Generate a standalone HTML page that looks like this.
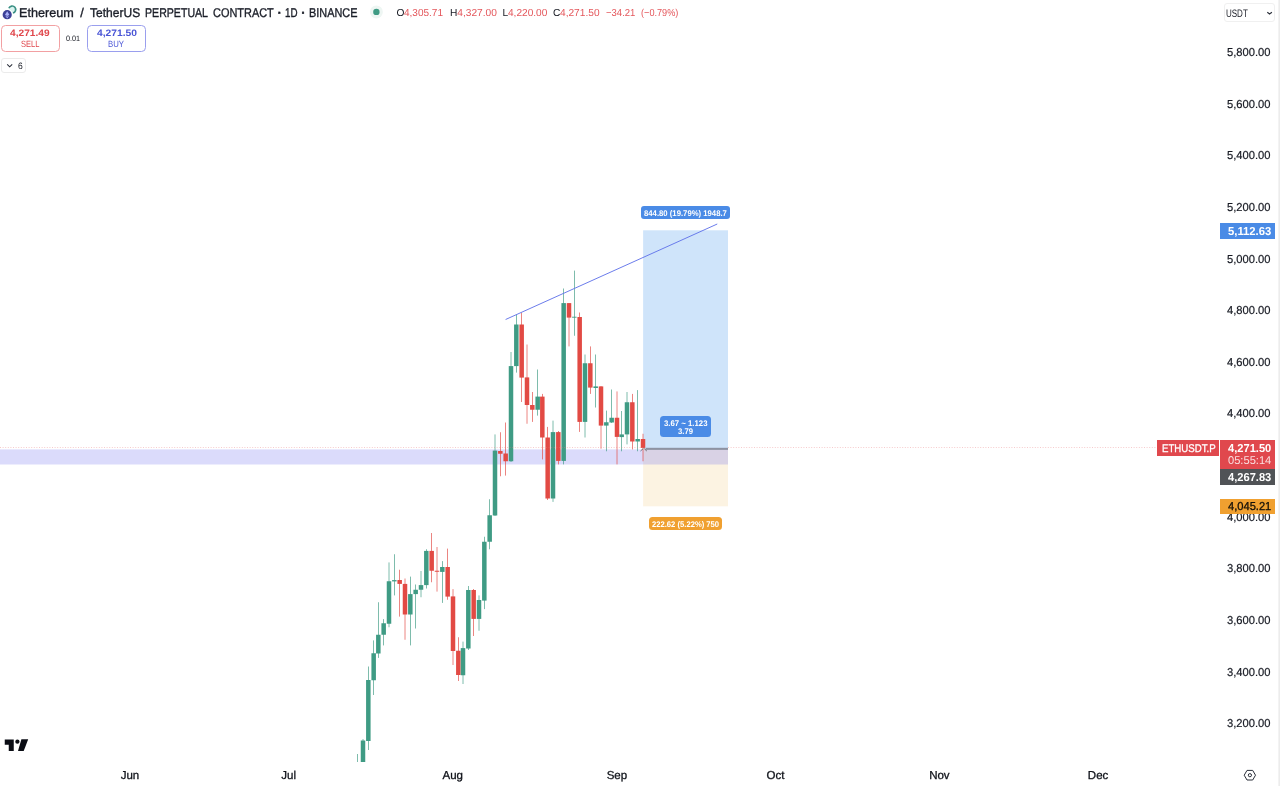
<!DOCTYPE html>
<html lang="en">
<head>
<meta charset="utf-8">
<title>ETHUSDT.P chart</title>
<style>
html,body{margin:0;padding:0;background:#fff;}
body{width:1280px;height:786px;position:relative;overflow:hidden;font-family:"Liberation Sans",sans-serif;}
#chart{position:absolute;left:0;top:0;width:1280px;height:786px;}
.t{position:absolute;white-space:nowrap;transform-origin:0 50%;display:block;line-height:20px;text-rendering:geometricPrecision;}
.box{position:absolute;box-sizing:border-box;}
</style>
</head>
<body>
<svg id="chart" width="1280" height="786" viewBox="0 0 1280 786">
<!-- position tool -->
<rect x="643.1" y="230.3" width="84.9" height="218.5" fill="rgba(63,147,235,0.25)"/>
<rect x="643.1" y="448.8" width="84.9" height="57.5" fill="rgba(232,163,32,0.13)"/>
<!-- support band -->
<rect x="0" y="449.4" width="728" height="15.1" fill="rgba(110,110,240,0.25)"/>
<!-- candles -->
<g>
<rect x="357.33" y="754.00" width="0.67" height="8.00" fill="#3f9b84"/>
<rect x="362.67" y="739.00" width="0.67" height="23.00" fill="#3f9b84"/>
<rect x="360.75" y="740.50" width="4.5" height="21.50" fill="#3f9b84"/>
<rect x="368.00" y="666.50" width="0.67" height="83.50" fill="#3f9b84"/>
<rect x="366.08" y="680.00" width="4.5" height="61.00" fill="#3f9b84"/>
<rect x="373.33" y="640.40" width="0.67" height="54.60" fill="#3f9b84"/>
<rect x="371.42" y="653.25" width="4.5" height="27.00" fill="#3f9b84"/>
<rect x="378.00" y="602.25" width="0.67" height="55.65" fill="#3f9b84"/>
<rect x="376.08" y="634.75" width="4.5" height="18.75" fill="#3f9b84"/>
<rect x="383.33" y="619.10" width="0.67" height="26.30" fill="#3f9b84"/>
<rect x="381.42" y="623.25" width="4.5" height="11.50" fill="#3f9b84"/>
<rect x="388.67" y="562.40" width="0.67" height="64.85" fill="#3f9b84"/>
<rect x="386.75" y="581.25" width="4.5" height="42.50" fill="#3f9b84"/>
<rect x="394.00" y="554.25" width="0.67" height="41.15" fill="#3f9b84"/>
<rect x="392.08" y="580.10" width="4.5" height="1.30" fill="#3f9b84"/>
<rect x="399.33" y="569.75" width="0.67" height="46.85" fill="#e24a44"/>
<rect x="397.42" y="580.00" width="4.5" height="3.90" fill="#e24a44"/>
<rect x="404.67" y="578.50" width="0.67" height="61.25" fill="#e24a44"/>
<rect x="402.75" y="583.90" width="4.5" height="30.60" fill="#e24a44"/>
<rect x="410.00" y="576.60" width="0.67" height="68.80" fill="#3f9b84"/>
<rect x="408.08" y="594.10" width="4.5" height="20.40" fill="#3f9b84"/>
<rect x="415.33" y="584.50" width="0.67" height="44.00" fill="#3f9b84"/>
<rect x="413.42" y="589.75" width="4.5" height="4.35" fill="#3f9b84"/>
<rect x="420.67" y="571.00" width="0.67" height="26.25" fill="#3f9b84"/>
<rect x="418.75" y="585.10" width="4.5" height="4.65" fill="#3f9b84"/>
<rect x="426.00" y="549.25" width="0.67" height="39.25" fill="#3f9b84"/>
<rect x="424.08" y="550.90" width="4.5" height="34.20" fill="#3f9b84"/>
<rect x="431.33" y="533.00" width="0.67" height="49.25" fill="#e24a44"/>
<rect x="429.42" y="550.90" width="4.5" height="19.85" fill="#e24a44"/>
<rect x="436.67" y="547.00" width="0.67" height="44.60" fill="#e24a44"/>
<rect x="434.75" y="570.75" width="4.5" height="1.00" fill="#e24a44"/>
<rect x="442.00" y="561.10" width="0.67" height="41.80" fill="#3f9b84"/>
<rect x="440.08" y="567.00" width="4.5" height="4.90" fill="#3f9b84"/>
<rect x="447.33" y="548.60" width="0.67" height="51.15" fill="#e24a44"/>
<rect x="445.42" y="567.00" width="4.5" height="29.60" fill="#e24a44"/>
<rect x="452.67" y="589.10" width="0.67" height="75.90" fill="#e24a44"/>
<rect x="450.75" y="596.40" width="4.5" height="54.60" fill="#e24a44"/>
<rect x="458.00" y="637.25" width="0.67" height="43.75" fill="#e24a44"/>
<rect x="456.08" y="650.75" width="4.5" height="24.25" fill="#e24a44"/>
<rect x="462.67" y="641.60" width="0.67" height="42.40" fill="#3f9b84"/>
<rect x="460.75" y="648.10" width="4.5" height="27.15" fill="#3f9b84"/>
<rect x="468.00" y="586.00" width="0.67" height="64.00" fill="#3f9b84"/>
<rect x="466.08" y="590.00" width="4.5" height="58.50" fill="#3f9b84"/>
<rect x="473.33" y="589.00" width="0.67" height="47.00" fill="#e24a44"/>
<rect x="471.42" y="590.00" width="4.5" height="28.90" fill="#e24a44"/>
<rect x="478.67" y="595.40" width="0.67" height="35.35" fill="#3f9b84"/>
<rect x="476.75" y="600.00" width="4.5" height="18.90" fill="#3f9b84"/>
<rect x="484.00" y="536.75" width="0.67" height="72.35" fill="#3f9b84"/>
<rect x="482.08" y="541.75" width="4.5" height="58.85" fill="#3f9b84"/>
<rect x="489.33" y="499.25" width="0.67" height="50.00" fill="#3f9b84"/>
<rect x="487.42" y="515.25" width="4.5" height="26.50" fill="#3f9b84"/>
<rect x="494.67" y="434.40" width="0.67" height="81.60" fill="#3f9b84"/>
<rect x="492.75" y="450.60" width="4.5" height="64.90" fill="#3f9b84"/>
<rect x="500.00" y="432.25" width="0.67" height="44.00" fill="#e24a44"/>
<rect x="498.08" y="451.00" width="4.5" height="2.75" fill="#e24a44"/>
<rect x="505.33" y="422.50" width="0.67" height="53.10" fill="#e24a44"/>
<rect x="503.42" y="453.50" width="4.5" height="7.75" fill="#e24a44"/>
<rect x="510.67" y="352.00" width="0.67" height="110.00" fill="#3f9b84"/>
<rect x="508.75" y="366.10" width="4.5" height="95.15" fill="#3f9b84"/>
<rect x="516.00" y="314.50" width="0.67" height="58.10" fill="#3f9b84"/>
<rect x="514.08" y="324.50" width="4.5" height="41.60" fill="#3f9b84"/>
<rect x="521.33" y="312.60" width="0.67" height="89.40" fill="#e24a44"/>
<rect x="519.42" y="324.50" width="4.5" height="53.10" fill="#e24a44"/>
<rect x="526.67" y="344.50" width="0.67" height="79.25" fill="#e24a44"/>
<rect x="524.75" y="377.40" width="4.5" height="27.60" fill="#e24a44"/>
<rect x="532.00" y="392.00" width="0.67" height="29.90" fill="#e24a44"/>
<rect x="530.08" y="405.00" width="4.5" height="4.75" fill="#e24a44"/>
<rect x="537.33" y="369.50" width="0.67" height="46.10" fill="#3f9b84"/>
<rect x="535.42" y="396.60" width="4.5" height="13.15" fill="#3f9b84"/>
<rect x="542.00" y="393.90" width="0.67" height="65.50" fill="#e24a44"/>
<rect x="540.08" y="396.60" width="4.5" height="40.90" fill="#e24a44"/>
<rect x="547.33" y="426.90" width="0.67" height="73.10" fill="#e24a44"/>
<rect x="545.42" y="437.50" width="4.5" height="61.00" fill="#e24a44"/>
<rect x="552.67" y="420.60" width="0.67" height="81.30" fill="#3f9b84"/>
<rect x="550.75" y="432.10" width="4.5" height="66.40" fill="#3f9b84"/>
<rect x="558.00" y="431.00" width="0.67" height="33.40" fill="#e24a44"/>
<rect x="556.08" y="432.10" width="4.5" height="28.80" fill="#e24a44"/>
<rect x="563.33" y="288.50" width="0.67" height="175.90" fill="#3f9b84"/>
<rect x="561.42" y="303.10" width="4.5" height="157.80" fill="#3f9b84"/>
<rect x="568.67" y="303.00" width="0.67" height="43.40" fill="#e24a44"/>
<rect x="566.75" y="303.10" width="4.5" height="14.50" fill="#e24a44"/>
<rect x="574.00" y="270.60" width="0.67" height="65.15" fill="#3f9b84"/>
<rect x="572.08" y="316.75" width="4.5" height="0.90" fill="#3f9b84"/>
<rect x="579.33" y="312.50" width="0.67" height="119.40" fill="#e24a44"/>
<rect x="577.42" y="317.00" width="4.5" height="104.90" fill="#e24a44"/>
<rect x="584.67" y="354.50" width="0.67" height="83.00" fill="#3f9b84"/>
<rect x="582.75" y="363.25" width="4.5" height="58.65" fill="#3f9b84"/>
<rect x="590.00" y="346.40" width="0.67" height="47.50" fill="#e24a44"/>
<rect x="588.08" y="363.25" width="4.5" height="24.35" fill="#e24a44"/>
<rect x="595.33" y="354.50" width="0.67" height="53.00" fill="#3f9b84"/>
<rect x="593.42" y="386.40" width="4.5" height="1.60" fill="#3f9b84"/>
<rect x="600.67" y="386.00" width="0.67" height="62.75" fill="#e24a44"/>
<rect x="598.75" y="386.40" width="4.5" height="39.20" fill="#e24a44"/>
<rect x="606.00" y="410.60" width="0.67" height="40.65" fill="#3f9b84"/>
<rect x="604.08" y="422.25" width="4.5" height="3.35" fill="#3f9b84"/>
<rect x="611.33" y="389.50" width="0.67" height="33.50" fill="#3f9b84"/>
<rect x="609.42" y="417.75" width="4.5" height="4.75" fill="#3f9b84"/>
<rect x="616.67" y="391.40" width="0.67" height="73.00" fill="#e24a44"/>
<rect x="614.75" y="417.75" width="4.5" height="19.15" fill="#e24a44"/>
<rect x="621.33" y="411.00" width="0.67" height="40.25" fill="#3f9b84"/>
<rect x="619.42" y="434.40" width="4.5" height="2.70" fill="#3f9b84"/>
<rect x="626.67" y="392.00" width="0.67" height="52.40" fill="#3f9b84"/>
<rect x="624.75" y="402.25" width="4.5" height="32.15" fill="#3f9b84"/>
<rect x="632.00" y="393.90" width="0.67" height="55.50" fill="#e24a44"/>
<rect x="630.08" y="402.25" width="4.5" height="39.25" fill="#e24a44"/>
<rect x="637.33" y="390.10" width="0.67" height="61.15" fill="#3f9b84"/>
<rect x="635.42" y="439.00" width="4.5" height="2.50" fill="#3f9b84"/>
<rect x="642.67" y="433.75" width="0.67" height="27.50" fill="#e24a44"/>
<rect x="640.75" y="439.00" width="4.5" height="8.90" fill="#e24a44"/>
</g>
<!-- last price dotted line -->
<line x1="0" y1="447.5" x2="643" y2="447.5" stroke="#e8777b" stroke-width="1" stroke-dasharray="1 1.6" opacity=".38"/>
<line x1="728" y1="447.5" x2="1157" y2="447.5" stroke="#e8777b" stroke-width="1" stroke-dasharray="1 1.6" opacity=".38"/>
<!-- entry line -->
<rect x="645.6" y="447.8" width="82.4" height="2.1" fill="#8d93a3"/>
<path d="M640.5 451 L643.2 448.6 M646.8 451 L644.2 448.6" stroke="#555" stroke-width="0.8" fill="none"/>
<!-- trend line -->
<line x1="505.6" y1="319.5" x2="717.25" y2="224" stroke="#6375ea" stroke-width="0.95"/>
<!-- right border -->
<rect x="1278.4" y="0" width="1.6" height="786" fill="#ececec"/>
<!-- TradingView logo -->
<g fill="#0b0d14">
<path d="M4.75 739.5 H13.75 V751 H8.75 V744.75 H4.75 Z"/>
<circle cx="17.4" cy="741.7" r="2.15"/>
<path d="M21.4 739.2 H28.2 L23.7 751 H18.0 Z"/>
</g>
<!-- settings icon -->
<g fill="none" stroke="#2a2e39" stroke-width="1">
<path d="M1244.2 775.2 L1247 770.4 H1252.7 L1255.5 775.2 L1252.7 780 H1247 Z"/>
<circle cx="1249.9" cy="775.2" r="1.6"/>
</g>
<!-- header icons -->
<circle cx="12.2" cy="9.5" r="2.8" fill="#d9f3ef"/>
<path d="M8.9 8.3 A3.5 3.5 0 1 1 12.8 12.95" fill="none" stroke="#3a9084" stroke-width="1.7"/>
<circle cx="7.2" cy="14.7" r="5.7" fill="#fff"/>
<circle cx="7.2" cy="14.7" r="4.6" fill="#3c4096"/>
<path d="M7.2 11.2 L5 14.8 L7.2 16.1 L9.4 14.8 Z M7.2 16.8 L5.1 15.6 L7.2 18.4 L9.3 15.6 Z" fill="#a9aff6"/>
<circle cx="376.4" cy="11.9" r="6.5" fill="#eef6f3"/>
<circle cx="376.4" cy="11.9" r="3.2" fill="#3f9b84"/>
<!-- chevrons -->
<path d="M7.2 64.4 L9.7 66.8 L12.2 64.4" fill="none" stroke="#2a2e39" stroke-width="1.1"/>
<path d="M1267.3 12.2 L1269.6 14 L1271.9 12.2" fill="none" stroke="#2a2e39" stroke-width="1.1"/>
</svg>

<!-- header buttons -->
<div class="box" style="left:1.2px;top:25px;width:58.4px;height:27px;border:1px solid #f2a0a2;border-radius:4.5px;"></div>
<div class="box" style="left:87.4px;top:25px;width:58.4px;height:27px;border:1px solid #9a9fee;border-radius:4.5px;"></div>
<div class="box" style="left:1.4px;top:57.5px;width:24.2px;height:15.8px;border:1px solid #ebebeb;border-radius:3px;"></div>
<div class="box" style="left:1223.6px;top:2.5px;width:51.2px;height:19.8px;border:1px solid #f0f0f0;border-radius:3px;"></div>

<span class="t" style="left:19.20px;top:3.00px;font-size:12.7px;color:#171a23;transform:scaleX(0.9943);-webkit-text-stroke:0.35px #1e222d;">Ethereum</span>
<span class="t" style="left:80.30px;top:3.00px;font-size:12.7px;color:#171a23;-webkit-text-stroke:0.35px #1e222d;">/</span>
<span class="t" style="left:89.80px;top:3.00px;font-size:12.7px;color:#171a23;transform:scaleX(0.9491);-webkit-text-stroke:0.35px #1e222d;">TetherUS</span>
<span class="t" style="left:145.00px;top:3.00px;font-size:12.7px;color:#171a23;transform:scaleX(0.8350);-webkit-text-stroke:0.35px #1e222d;">PERPETUAL</span>
<span class="t" style="left:213.00px;top:3.00px;font-size:12.7px;color:#171a23;transform:scaleX(0.8619);-webkit-text-stroke:0.35px #1e222d;">CONTRACT</span>
<span class="t" style="left:277.60px;top:3.00px;font-size:12.7px;color:#171a23;font-weight:700;-webkit-text-stroke:0.35px #1e222d;">·</span>
<span class="t" style="left:285.00px;top:3.00px;font-size:12.7px;color:#171a23;transform:scaleX(0.7707);-webkit-text-stroke:0.35px #1e222d;">1D</span>
<span class="t" style="left:301.20px;top:3.00px;font-size:12.7px;color:#171a23;font-weight:700;-webkit-text-stroke:0.35px #1e222d;">·</span>
<span class="t" style="left:308.50px;top:3.00px;font-size:12.7px;color:#171a23;transform:scaleX(0.8581);-webkit-text-stroke:0.35px #1e222d;">BINANCE</span>
<span class="t" style="left:396.60px;top:4.00px;font-size:10.2px;color:#171a23;">O</span>
<span class="t" style="left:404.38px;top:4.00px;font-size:10.2px;color:#e4565b;transform:scaleX(0.9841);">4,305.71</span>
<span class="t" style="left:449.90px;top:4.00px;font-size:10.2px;color:#171a23;">H</span>
<span class="t" style="left:457.27px;top:4.00px;font-size:10.2px;color:#e4565b;">4,327.00</span>
<span class="t" style="left:502.50px;top:4.00px;font-size:10.2px;color:#171a23;">L</span>
<span class="t" style="left:508.17px;top:4.00px;font-size:10.2px;color:#e4565b;transform:scaleX(0.9917);">4,220.00</span>
<span class="t" style="left:553.10px;top:4.00px;font-size:10.2px;color:#171a23;">C</span>
<span class="t" style="left:560.47px;top:4.00px;font-size:10.2px;color:#e4565b;transform:scaleX(0.9969);">4,271.50</span>
<span class="t" style="left:605.60px;top:4.00px;font-size:10.2px;color:#e4565b;transform:scaleX(0.9347);">−34.21</span>
<span class="t" style="left:640.60px;top:4.00px;font-size:10.2px;color:#e4565b;transform:scaleX(0.8985);">(−0.79%)</span>
<span class="t" style="left:10.40px;top:23.40px;font-size:9.3px;color:#e0474c;font-weight:700;transform:scaleX(1.0938);">4,271.49</span>
<span class="t" style="left:20.60px;top:34.30px;font-size:9.1px;color:#e0474c;transform:scaleX(0.8270);">SELL</span>
<span class="t" style="left:65.90px;top:29.00px;font-size:7.8px;color:#171a23;transform:scaleX(0.9284);">0.01</span>
<span class="t" style="left:96.90px;top:23.40px;font-size:9.3px;color:#4a55d6;font-weight:700;transform:scaleX(1.1049);">4,271.50</span>
<span class="t" style="left:108.00px;top:34.30px;font-size:9.1px;color:#4a55d6;transform:scaleX(0.8555);">BUY</span>
<span class="t" style="left:17.50px;top:55.80px;font-size:9.3px;color:#171a23;transform:scaleX(0.9184);">6</span>
<span class="t" style="left:1226.00px;top:3.90px;font-size:10.9px;color:#171a23;transform:scaleX(0.7351);">USDT</span>
<span class="t" style="left:1227.10px;top:43.00px;font-size:11.5px;color:#171a23;transform:scaleX(0.9717);-webkit-text-stroke:0.2px #171a23;">5,800.00</span>
<span class="t" style="left:1227.10px;top:94.63px;font-size:11.5px;color:#171a23;transform:scaleX(0.9717);-webkit-text-stroke:0.2px #171a23;">5,600.00</span>
<span class="t" style="left:1227.10px;top:146.26px;font-size:11.5px;color:#171a23;transform:scaleX(0.9717);-webkit-text-stroke:0.2px #171a23;">5,400.00</span>
<span class="t" style="left:1227.10px;top:197.89px;font-size:11.5px;color:#171a23;transform:scaleX(0.9717);-webkit-text-stroke:0.2px #171a23;">5,200.00</span>
<span class="t" style="left:1227.10px;top:249.52px;font-size:11.5px;color:#171a23;transform:scaleX(0.9717);-webkit-text-stroke:0.2px #171a23;">5,000.00</span>
<span class="t" style="left:1227.10px;top:301.15px;font-size:11.5px;color:#171a23;transform:scaleX(0.9717);-webkit-text-stroke:0.2px #171a23;">4,800.00</span>
<span class="t" style="left:1227.10px;top:352.78px;font-size:11.5px;color:#171a23;transform:scaleX(0.9717);-webkit-text-stroke:0.2px #171a23;">4,600.00</span>
<span class="t" style="left:1227.10px;top:404.41px;font-size:11.5px;color:#171a23;transform:scaleX(0.9717);-webkit-text-stroke:0.2px #171a23;">4,400.00</span>
<span class="t" style="left:1227.10px;top:456.04px;font-size:11.5px;color:#171a23;transform:scaleX(0.9717);-webkit-text-stroke:0.2px #171a23;">4,200.00</span>
<span class="t" style="left:1227.10px;top:559.30px;font-size:11.5px;color:#171a23;transform:scaleX(0.9717);-webkit-text-stroke:0.2px #171a23;">3,800.00</span>
<span class="t" style="left:1227.10px;top:610.93px;font-size:11.5px;color:#171a23;transform:scaleX(0.9717);-webkit-text-stroke:0.2px #171a23;">3,600.00</span>
<span class="t" style="left:1227.10px;top:662.56px;font-size:11.5px;color:#171a23;transform:scaleX(0.9717);-webkit-text-stroke:0.2px #171a23;">3,400.00</span>
<span class="t" style="left:1227.10px;top:714.19px;font-size:11.5px;color:#171a23;transform:scaleX(0.9717);-webkit-text-stroke:0.2px #171a23;">3,200.00</span>
<span class="t" style="left:120.73px;top:766.10px;font-size:11.5px;color:#10131a;-webkit-text-stroke:0.3px #10131a;">Jun</span>
<span class="t" style="left:281.35px;top:766.10px;font-size:11.5px;color:#10131a;-webkit-text-stroke:0.3px #10131a;">Jul</span>
<span class="t" style="left:442.47px;top:766.10px;font-size:11.5px;color:#10131a;-webkit-text-stroke:0.3px #10131a;">Aug</span>
<span class="t" style="left:606.67px;top:766.10px;font-size:11.5px;color:#10131a;-webkit-text-stroke:0.3px #10131a;">Sep</span>
<span class="t" style="left:766.45px;top:766.10px;font-size:11.5px;color:#10131a;-webkit-text-stroke:0.3px #10131a;">Oct</span>
<span class="t" style="left:929.17px;top:766.10px;font-size:11.5px;color:#10131a;-webkit-text-stroke:0.3px #10131a;">Nov</span>
<span class="t" style="left:1087.87px;top:766.10px;font-size:11.5px;color:#10131a;-webkit-text-stroke:0.3px #10131a;">Dec</span>

<!-- axis labels -->
<span class="t" style="left:1227.10px;top:507.67px;font-size:11.5px;color:#171a23;transform:scaleX(0.9717);-webkit-text-stroke:0.2px #171a23;">4,000.00</span>
<div class="box" style="left:1220px;top:223px;width:55.4px;height:15.6px;background:#4a8be6;"></div>
<div class="box" style="left:1157.2px;top:440px;width:61.7px;height:15.5px;background:#e0484d;"></div>
<div class="box" style="left:1219.9px;top:440px;width:55.4px;height:29px;background:#e0484d;"></div>
<div class="box" style="left:1219.9px;top:468.9px;width:55.4px;height:15.7px;background:#505356;"></div>
<div class="box" style="left:1219.9px;top:498.8px;width:55.4px;height:15px;background:#f0a030;"></div>
<!-- chart labels -->
<div class="box" style="left:641px;top:206.2px;width:89px;height:13.2px;background:#4a8be6;border-radius:3px;"></div>
<div class="box" style="left:660.2px;top:416.2px;width:50.8px;height:20.7px;background:#4a8be6;border-radius:3.5px;"></div>
<div class="box" style="left:649px;top:517.2px;width:73px;height:12.8px;background:#f0a030;border-radius:3.5px;"></div>
<span class="t" style="left:1227.70px;top:221.90px;font-size:11.5px;color:#fff;font-weight:700;transform:scaleX(0.9810);">5,112.63</span>
<span class="t" style="left:1161.60px;top:438.70px;font-size:11.2px;color:#fff;transform:scaleX(0.8637);-webkit-text-stroke:0.3px #fff;">ETHUSDT.P</span>
<span class="t" style="left:1227.70px;top:438.80px;font-size:11.5px;color:#fff;font-weight:700;transform:scaleX(0.9673);">4,271.50</span>
<span class="t" style="left:1227.70px;top:451.00px;font-size:11.3px;color:rgba(255,255,255,.82);transform:scaleX(0.9844);">05:55:14</span>
<span class="t" style="left:1227.70px;top:467.90px;font-size:11.5px;color:#fff;font-weight:700;transform:scaleX(0.9673);">4,267.83</span>
<span class="t" style="left:1227.70px;top:497.30px;font-size:11.5px;color:#14100a;transform:scaleX(0.9673);-webkit-text-stroke:0.3px #14100a;">4,045.21</span>
<span class="t" style="left:644.40px;top:203.70px;font-size:8.2px;color:#fff;font-weight:700;transform:scaleX(0.9436);">844.80 (19.79%) 1948.7</span>
<span class="t" style="left:664.00px;top:414.00px;font-size:8.2px;color:#fff;font-weight:700;transform:scaleX(0.9505);">3.67 ~ 1.123</span>
<span class="t" style="left:678.00px;top:421.50px;font-size:8.2px;color:#fff;font-weight:700;transform:scaleX(0.9412);">3.79</span>
<span class="t" style="left:651.90px;top:514.50px;font-size:8.2px;color:#fff;font-weight:700;transform:scaleX(0.9330);">222.62 (5.22%) 750</span>
</body>
</html>
